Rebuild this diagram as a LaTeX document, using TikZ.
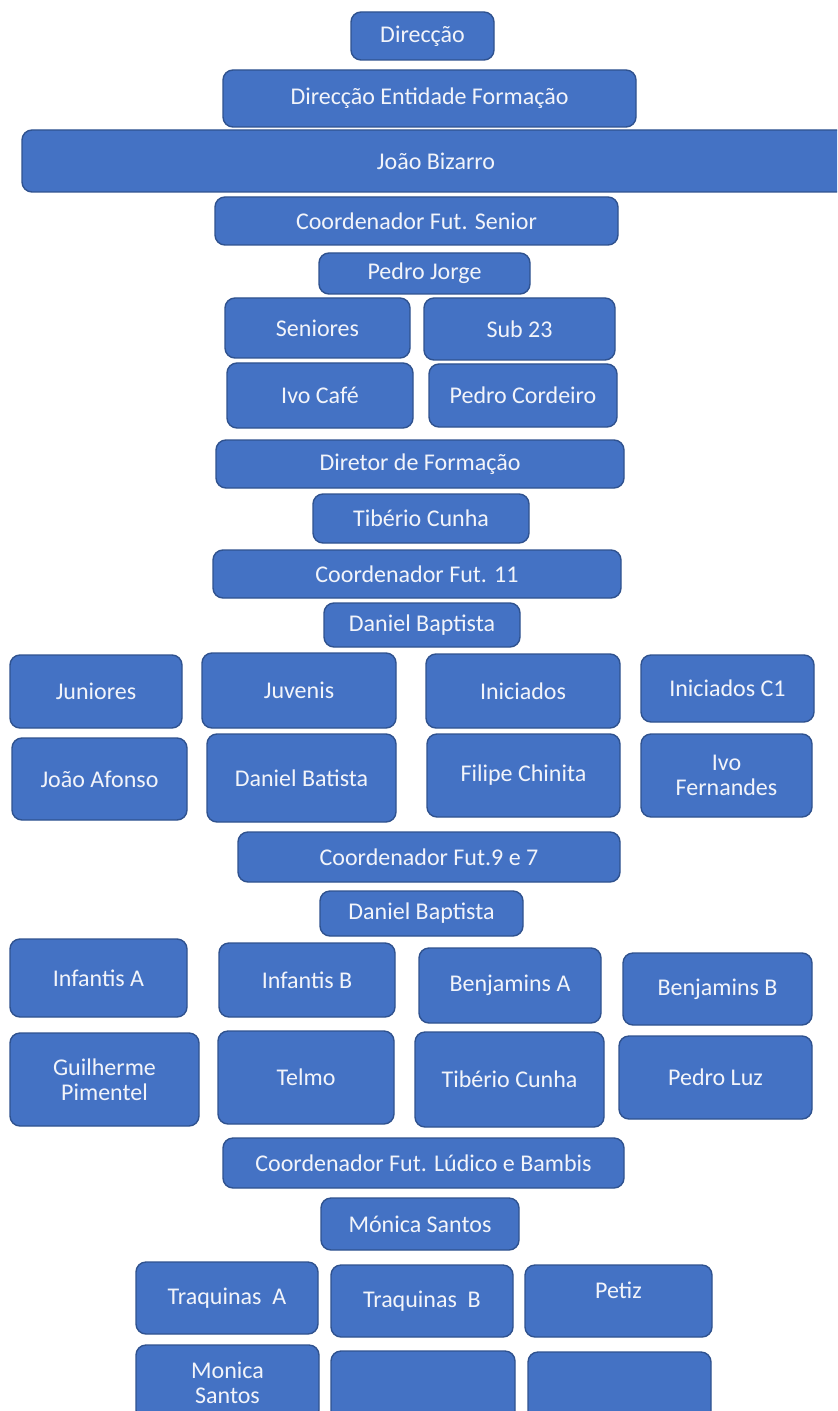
\documentclass[tikz,border=0pt]{standalone}
\usepackage{fontspec}
\setmainfont{Carlito}
\usepackage{xcolor}
\usepackage{tikz}
\definecolor{orgFill}{HTML}{4472C4}
\definecolor{orgEdge}{HTML}{2F528F}
\definecolor{orgText}{HTML}{F2F4FA}
\tikzset{
  org diagram/.style={font=\fontsize{12}{12.5}\selectfont, text=orgText,
    x=0.5pt, y=-0.5pt},
  org box/.style={draw=orgEdge, fill=orgFill, line width=0.7pt,
    rounded corners=5pt, align=center, inner sep=2pt},
  org size/.style 2 args={minimum width=#1*0.5pt, minimum height=#2*0.5pt}
}
\begin{document}
\begin{tikzpicture}[org diagram]
\useasboundingbox (0,0) rectangle (837,1411);
\clip (0,0) rectangle (837,1411);
% direccao / seniores
\foreach \name/\cx/\cy/\w/\h/\txt in {
  dir/422.5/36/143/48/Direcção,
  def/429.5/98.5/413/57/Direcção Entidade Formação,
  jb/436/161/828/62/João Bizarro,
  cfs/416.5/221/403/48/Coordenador Fut. Senior,
  pj/424.5/273.5/211/41/Pedro Jorge,
  sen/317.5/328/185/60/Seniores,
  s23/519.5/329/191/62/Sub 23,
  ivo/320/395.5/186/65/Ivo Café,
  pco/523/395.5/188/63/Pedro Cordeiro}
  \node[org box, org size={\w}{\h}] (\name) at (\cx,\cy) {\txt};
% formacao / fut. 11
\foreach \name/\cx/\cy/\w/\h/\txt in {
  ddf/420/464/408/48/Diretor de Formação,
  tib/421/518.5/216/49/Tibério Cunha,
  cf11/417/574/408/48/Coordenador Fut. 11,
  db1/422/625/196/44/Daniel Baptista,
  jun/96/691.5/172/73/Juniores,
  juv/299/690.5/194/75/Juvenis,
  ini/523/691/194/74/Iniciados,
  inc1/727.5/688.5/173/67/Iniciados C1,
  jaf/99.5/779/175/82/João Afonso,
  dba/301.5/778/189/88/Daniel Batista,
  fch/523.5/775.5/193/83/Filipe Chinita,
  ife/726.5/775.5/171/83/Ivo\\Fernandes}
  \node[org box, org size={\w}{\h}] (\name) at (\cx,\cy) {\txt};
% fut. 9 e 7
\foreach \name/\cx/\cy/\w/\h/\txt in {
  cf97/429/857/382/50/Coordenador Fut.9 e 7,
  db2/421.5/913.5/203/45/Daniel Baptista,
  ifa/98.5/978/177/78/Infantis A,
  ifb/307/980/176/74/Infantis B,
  bja/510/985.5/182/75/Benjamins A,
  bjb/717.5/989/189/72/Benjamins B,
  gpi/104.5/1079.5/189/93/Guilherme\\Pimentel,
  tel/306/1077.5/176/93/Telmo,
  tib2/509.5/1079.5/189/95/Tibério Cunha,
  plu/715.5/1077.5/193/83/Pedro Luz}
  \node[org box, org size={\w}{\h}] (\name) at (\cx,\cy) {\txt};
% ludico e bambis
\foreach \name/\cx/\cy/\w/\h/\txt in {
  cflb/423.5/1163/401/50/Coordenador Fut. Lúdico e Bambis,
  mos/420/1224/198/52/Mónica Santos,
  tra/227/1298/182/72/Traquinas~~A,
  trb/422/1301/182/72/Traquinas~~B,
  mon/227.5/1382.5/183/75/Monica\\Santos,
  em2/423/1388/184/74/{},
  em3/619.5/1388.5/183/73/{}}
  \node[org box, org size={\w}{\h}] (\name) at (\cx,\cy) {\txt};
\node[org box, org size={187}{72},
  label={[yshift=5.5pt]center:Petiz}] (pet) at (618.5,1301) {};
\end{tikzpicture}
\end{document}
